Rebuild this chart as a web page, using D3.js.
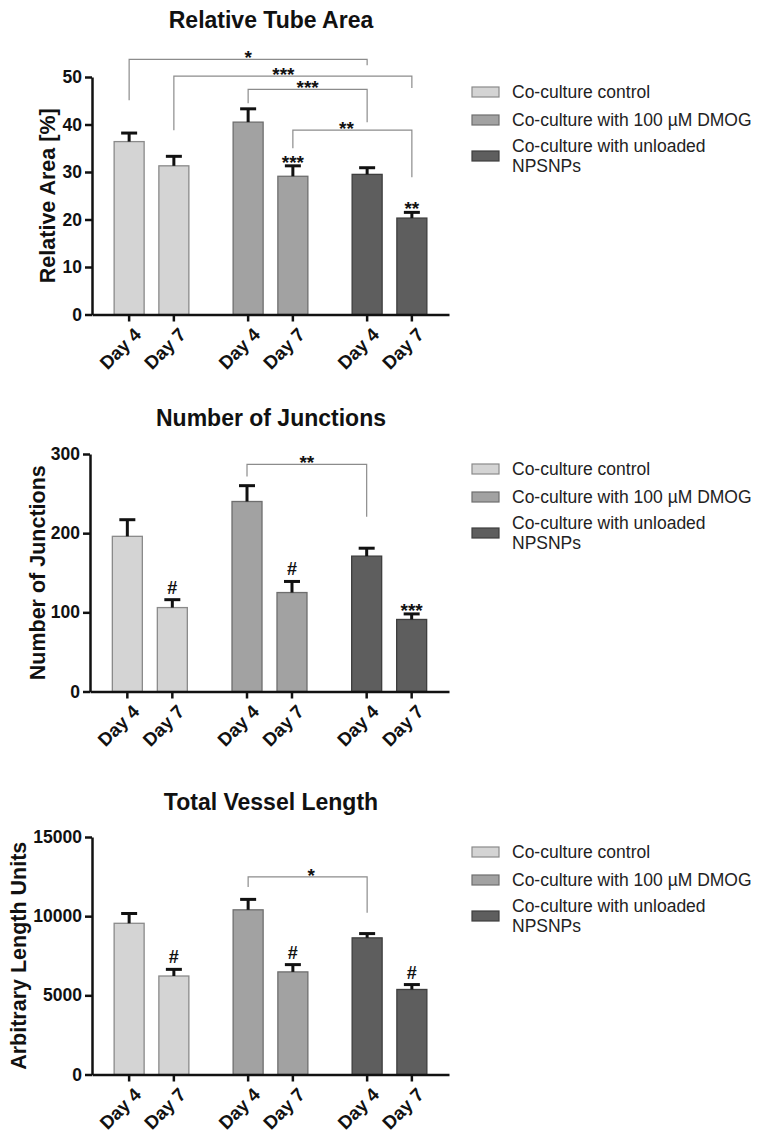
<!DOCTYPE html>
<html>
<head>
<meta charset="utf-8">
<script src="https://cdn.jsdelivr.net/npm/d3@7"></script>
<style>
  body { margin: 0; background: #fff; }
  svg { font-family: "Liberation Sans", Arial, sans-serif; }
</style>
</head>
<body>
<div id="chart"></div>
<script>
// data
var groups = ['Co-culture control', 'Co-culture with 100 µM DMOG', 'Co-culture with unloaded NPSNPs'];
var days = ['Day 4', 'Day 7'];

var areaMean = [36.4, 31.3, 40.5, 29.1, 29.5, 20.3];
var areaSem = [1.8, 2.0, 2.8, 2.2, 1.4, 1.2];
var areaMarks = ['', '', '', '***', '', '**'];
var areaTicks = [0, 10, 20, 30, 40, 50];
// bracket: bar indexes, bar heights in data units, label position along the bracket
var areaBrackets = [
    { from: 0, to: 4, y: 53.7, yFrom: 45.1, yTo: 52.5, label: '*', at: 0.5 },
    { from: 1, to: 5, y: 50.2, yFrom: 38.8, yTo: 47.7, label: '***', at: 0.46 },
    { from: 2, to: 4, y: 47.4, yFrom: 44.5, yTo: 40.5, label: '***', at: 0.5 },
    { from: 3, to: 5, y: 38.8, yFrom: 35.0, yTo: 28.9, label: '**', at: 0.45 }
];

var junctionMean = [196, 106, 240, 125, 171, 91];
var junctionSem = [21, 10, 20, 14, 10, 7];
var junctionMarks = ['', '#', '', '#', '', '***'];
var junctionTicks = [0, 100, 200, 300];
var junctionBrackets = [
    { from: 2, to: 4, y: 287, yFrom: 271.5, yTo: 220.6, label: '**', at: 0.5 }
];

var lengthMean = [9550, 6220, 10400, 6480, 8630, 5370];
var lengthSem = [620, 420, 660, 460, 270, 310];
var lengthMarks = ['', '#', '', '#', '', '#'];
var lengthTicks = [0, 5000, 10000, 15000];
var lengthBrackets = [
    { from: 2, to: 4, y: 12480, yFrom: 11850, yTo: 10210, label: '*', at: 0.53 }
];

var colours = {
    fill: ['#d4d4d4', '#a2a2a2', '#5e5e5e'],
    stroke: ['#8a8a8a', '#6e6e6e', '#3e3e3e'],
    text: '#111111',
    bracket: '#8c8c8c'
};

var panels = [
    { title: 'Relative Tube Area', yTitle: 'Relative Area [%]', mean: areaMean, sem: areaSem,
      marks: areaMarks, ticks: areaTicks, brackets: areaBrackets,
      top: 77, left: 92, titleY: 28, yTitleX: 47 },
    { title: 'Number of Junctions', yTitle: 'Number of Junctions', mean: junctionMean, sem: junctionSem,
      marks: junctionMarks, ticks: junctionTicks, brackets: junctionBrackets,
      top: 454, left: 90, titleY: 426, yTitleX: 37 },
    { title: 'Total Vessel Length', yTitle: 'Arbitrary Length Units', mean: lengthMean, sem: lengthSem,
      marks: lengthMarks, ticks: lengthTicks, brackets: lengthBrackets,
      top: 837, left: 92, titleY: 810, yTitleX: 18 }
];

var plotHeight = 237.5;
var plotRight = 450;
var barWidth = 30;
var capWidth = 16;

var svg = d3.select('#chart')
    .append('svg')
    .attr('width', 760)
    .attr('height', 1145);

panels.forEach(function (p) {
    var g = svg.append('g');
    var bottom = p.top + plotHeight;

    var y = d3.scaleLinear()
        .domain([0, d3.max(p.ticks)])
        .range([bottom, p.top]);

    var x0 = d3.scaleBand()
        .domain(groups)
        .range([p.left, plotRight - 1]);

    var x1 = d3.scalePoint()
        .domain(days)
        .range([0, x0.bandwidth()])
        .padding(0.83);

    // one record per bar
    var bars = [];
    groups.forEach(function (grp, gi) {
        days.forEach(function (day, di) {
            var i = gi * 2 + di;
            bars.push({ group: grp, gi: gi, day: day, mean: p.mean[i], sem: p.sem[i], mark: p.marks[i] });
        });
    });
    function cx(d) { return x0(d.group) + x1(d.day); }

    //title
    g.append('text')
        .attr('x', 271)
        .attr('y', p.titleY)
        .attr('text-anchor', 'middle')
        .style('font-size', '23px')
        .style('font-weight', 'bold')
        .attr('fill', colours.text)
        .text(p.title);

    //bars
    g.selectAll('rect.bar')
        .data(bars)
        .enter().append('rect')
        .attr('class', 'bar')
        .attr('x', function (d) { return cx(d) - barWidth / 2; })
        .attr('y', function (d) { return y(d.mean); })
        .attr('width', barWidth)
        .attr('height', function (d) { return bottom - y(d.mean); })
        .attr('fill', function (d) { return colours.fill[d.gi]; })
        .attr('stroke', function (d) { return colours.stroke[d.gi]; })
        .attr('stroke-width', 1.3);

    //error bars (upper only)
    var err = g.selectAll('g.err')
        .data(bars)
        .enter().append('g')
        .attr('class', 'err')
        .attr('stroke', colours.text)
        .attr('stroke-width', 3);
    err.append('line')
        .attr('x1', cx).attr('x2', cx)
        .attr('y1', function (d) { return y(d.mean); })
        .attr('y2', function (d) { return y(d.mean + d.sem); });
    err.append('line')
        .attr('x1', function (d) { return cx(d) - capWidth / 2; })
        .attr('x2', function (d) { return cx(d) + capWidth / 2; })
        .attr('y1', function (d) { return y(d.mean + d.sem); })
        .attr('y2', function (d) { return y(d.mean + d.sem); });

    //marks above bars
    g.selectAll('text.mark')
        .data(bars.filter(function (d) { return d.mark; }))
        .enter().append('text')
        .attr('class', 'mark')
        .attr('x', cx)
        .attr('y', function (d) {
            return y(d.mean + d.sem) + (d.mark === '#' ? -6 : 3);
        })
        .attr('text-anchor', 'middle')
        .style('font-size', function (d) { return d.mark === '#' ? '18px' : '19px'; })
        .style('font-weight', 'bold')
        .attr('fill', colours.text)
        .text(function (d) { return d.mark; });

    //significance brackets
    var br = g.selectAll('g.bracket')
        .data(p.brackets)
        .enter().append('g')
        .attr('class', 'bracket');
    br.append('path')
        .attr('fill', 'none')
        .attr('stroke', colours.bracket)
        .attr('stroke-width', 1.2)
        .attr('d', function (b) {
            var xa = cx(bars[b.from]), xb = cx(bars[b.to]);
            return 'M' + xa + ',' + y(b.yFrom) + 'V' + y(b.y) + 'H' + xb + 'V' + y(b.yTo);
        });
    br.append('text')
        .attr('x', function (b) {
            var xa = cx(bars[b.from]), xb = cx(bars[b.to]);
            return xa + (xb - xa) * b.at;
        })
        .attr('y', function (b) { return y(b.y) + 5; })
        .attr('text-anchor', 'middle')
        .style('font-size', '19px')
        .style('font-weight', 'bold')
        .attr('fill', colours.text)
        .text(function (b) { return b.label; });

    //y axis
    var yAxis = g.append('g')
        .attr('transform', 'translate(' + p.left + ',0)')
        .call(d3.axisLeft(y).tickValues(p.ticks).tickFormat(d3.format('d'))
            .tickSize(7).tickSizeOuter(0).tickPadding(3));

    //x axis line
    var xAxis = g.append('g')
        .attr('transform', 'translate(0,' + bottom + ')')
        .call(d3.axisBottom(x0).tickSize(0).tickSizeOuter(0).tickFormat(''));
    xAxis.selectAll('.tick').remove();

    [yAxis, xAxis].forEach(function (a) {
        a.select('.domain').attr('stroke', colours.text).attr('stroke-width', 2.5);
        a.selectAll('.tick line').attr('stroke', colours.text).attr('stroke-width', 2.5);
        a.selectAll('.tick text')
            .attr('fill', colours.text)
            .style('font-size', '17.5px')
            .style('font-weight', 'bold')
            .style('font-family', '"Liberation Sans", Arial, sans-serif');
    });

    //x ticks at bar centres
    g.selectAll('line.xtick')
        .data(bars)
        .enter().append('line')
        .attr('class', 'xtick')
        .attr('x1', cx).attr('x2', cx)
        .attr('y1', bottom).attr('y2', bottom + 7)
        .attr('stroke', colours.text)
        .attr('stroke-width', 2.5);

    g.selectAll('text.xlab')
        .data(bars)
        .enter().append('text')
        .attr('class', 'xlab')
        .attr('transform', function (d) {
            return 'translate(' + (cx(d) + 4) + ',' + (bottom + 12) + ') rotate(-45)';
        })
        .attr('text-anchor', 'end')
        .attr('dy', '0.7em')
        .style('font-size', '18.5px')
        .style('font-weight', 'bold')
        .attr('fill', colours.text)
        .text(function (d) { return d.day; });

    //y title
    g.append('text')
        .attr('transform', 'translate(' + p.yTitleX + ',' + (p.top + plotHeight / 2) + ') rotate(-90)')
        .attr('text-anchor', 'middle')
        .attr('dy', '0.35em')
        .style('font-size', '21.5px')
        .style('font-weight', 'bold')
        .attr('fill', colours.text)
        .text(p.yTitle);

    //legend
    var legend = g.append('g')
        .attr('transform', 'translate(472,' + (p.top + 15) + ')');
    var rowY = [0, 28, 64];
    groups.forEach(function (grp, gi) {
        legend.append('rect')
            .attr('x', 0)
            .attr('y', rowY[gi] - 5)
            .attr('width', 27)
            .attr('height', 10)
            .attr('fill', colours.fill[gi])
            .attr('stroke', colours.stroke[gi])
            .attr('stroke-width', 1.2);
        var lines = gi === 2 ? ['Co-culture with unloaded', 'NPSNPs'] : [grp];
        var t = legend.append('text')
            .attr('x', 40)
            .attr('y', rowY[gi] - (lines.length - 1) * 10)
            .style('font-size', '17.5px')
            .attr('fill', '#222');
        lines.forEach(function (l, li) {
            t.append('tspan')
                .attr('x', 40)
                .attr('dy', li === 0 ? '0.35em' : '20px')
                .text(l);
        });
    });
});
</script>
</body>
</html>
